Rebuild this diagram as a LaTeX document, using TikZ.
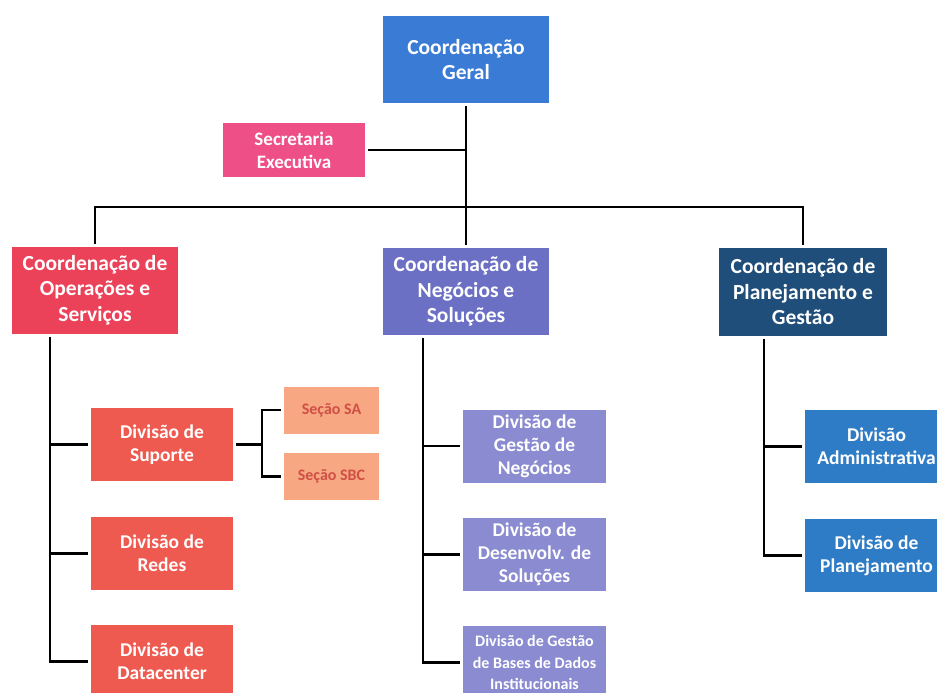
\documentclass[tikz,border=0pt]{standalone}
\usepackage{fontspec}
\setmainfont{Carlito}
\definecolor{cgeral}{HTML}{3A7BD5}
\definecolor{csec}{HTML}{EE4F87}
\definecolor{cop}{HTML}{EC4259}
\definecolor{cdivop}{HTML}{EF5A50}
\definecolor{csecao}{HTML}{F7A883}
\definecolor{csecaotxt}{HTML}{CF4F45}
\definecolor{cneg}{HTML}{6C70C4}
\definecolor{cdivneg}{HTML}{8A8BD0}
\definecolor{cplan}{HTML}{1F4E7A}
\definecolor{cdivplan}{HTML}{2F7CC6}
\tikzset{
  box/.style={rectangle, draw=none, text=white, font=\bfseries, align=center, inner sep=0pt, outer sep=3pt},
  big/.style={box, minimum width=166pt, minimum height=87pt, font=\bfseries\fontsize{21.5}{25.5}\selectfont},
  div/.style={box, minimum width=142pt, minimum height=73pt, font=\bfseries\fontsize{19.5}{23}\selectfont},
  secao/.style={box, fill=csecao, text=csecaotxt, minimum width=95pt, minimum height=47pt, font=\bfseries\fontsize{16}{19}\selectfont},
  conn/.style={draw=black, line width=2.8pt}
}
\begin{document}
\begin{tikzpicture}[x=1pt,y=-1pt]
\useasboundingbox (0,0) rectangle (937,693);
\clip (0,0) rectangle (937,693);
\fill[white] (0,0) rectangle (937,693);
% top
\node[big, fill=cgeral] (geral) at (466,59.5) {Coordenação\\Geral};
\node[box, fill=csec, minimum width=142pt, minimum height=54pt, font=\bfseries\fontsize{19}{23}\selectfont] (secr) at (294,150) {Secretaria\\Executiva};
% coordinations
\node[big, fill=cop] (op) at (95,290) {Coordenação de\\Operações e\\Serviços};
\node[big, fill=cneg] (neg) at (466,291.5) {Coordenação de\\Negócios e\\Soluções};
\node[big, fill=cplan, minimum width=168pt, minimum height=88pt] (plan) at (803,292) {Coordenação de\\Planejamento e\\Gestão};
% left divisions
\node[div, fill=cdivop] (sup) at (162,444.5) {Divisão de\\Suporte};
\node[div, fill=cdivop] (redes) at (162,553.5) {Divisão de\\Redes};
\node[div, fill=cdivop] (dc) at (162,661.5) {Divisão de\\Datacenter};
\node[secao] (sa) at (331.5,410) {Seção SA};
\node[secao] (sbc) at (331.5,476.5) {Seção SBC};
% middle divisions
\node[div, fill=cdivneg, minimum width=143pt] (gn) at (534.5,446) {Divisão de\\Gestão de\\Negócios};
\node[div, fill=cdivneg, minimum width=143pt] (ds) at (534.5,554.5) {Divisão de\\Desenvolv. de\\Soluções};
\node[div, fill=cdivneg, minimum width=143pt, font=\bfseries\fontsize{16}{21.5}\selectfont] (bd) at (534.5,662.5) {Divisão de Gestão\\de Bases de Dados\\Institucionais};
% right divisions
\node[div, fill=cdivplan, minimum width=143pt] (adm) at (876.5,446.5) {Divisão\\Administrativa};
\node[div, fill=cdivplan, minimum width=143pt] (pl) at (876.5,555.5) {Divisão de\\Planejamento};
% connectors
\coordinate (bar) at (0,207);
\draw[conn] (geral.south) -- (geral.south |- bar);
\draw[conn] (secr.east) -- (secr.east -| geral.south);
\draw[conn, line cap=rect] (op.north |- bar) -- (plan.north |- bar);
\draw[conn] (op.north |- bar) -- (op.north);
\draw[conn] (neg.north |- bar) -- (neg.north);
\draw[conn] (plan.north |- bar) -- (plan.north);
% left spine
\coordinate (sL) at (50,0);
\draw[conn] (sL |- op.south) -- (sL |- dc.west) -- (dc.west);
\draw[conn] (sL |- sup.west) -- (sup.west);
\draw[conn] (sL |- redes.west) -- (redes.west);
% sections
\coordinate (sS) at (262,0);
\draw[conn] (sup.east) -- (sS |- sup.east);
\draw[conn] (sa.west) -- (sS |- sa.west) -- (sS |- sbc.west) -- (sbc.west);
% middle spine
\coordinate (sM) at (423,0);
\draw[conn] (sM |- neg.south) -- (sM |- bd.west) -- (bd.west);
\draw[conn] (sM |- gn.west) -- (gn.west);
\draw[conn] (sM |- ds.west) -- (ds.west);
% right spine
\coordinate (sR) at (764,0);
\draw[conn] (sR |- plan.south) -- (sR |- pl.west) -- (pl.west);
\draw[conn] (sR |- adm.west) -- (adm.west);
\end{tikzpicture}
\end{document}
